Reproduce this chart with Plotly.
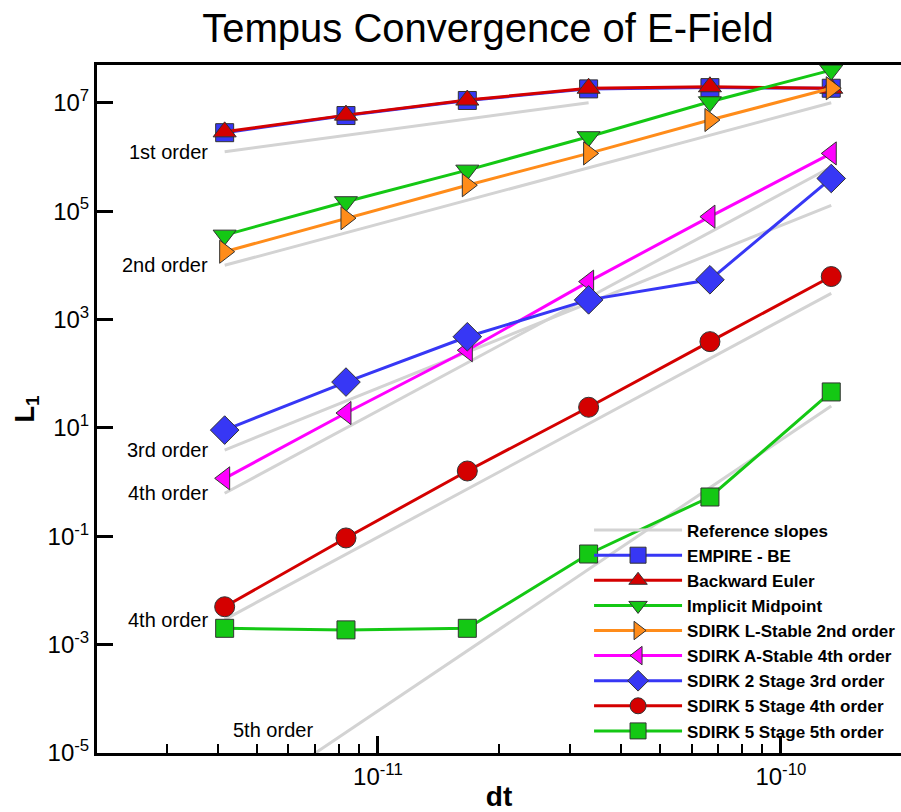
import plotly.graph_objects as go
import math

# ---- data ----
dt = [4.1667e-12, 8.3333e-12, 1.6667e-11, 3.3333e-11, 6.6667e-11, 1.3333e-10]

empire_be = [2.8e6, 5.8e6, 1.1e7, 1.8e7, 1.9e7, 1.85e7]
backward_euler = [2.9e6, 5.9e6, 1.12e7, 1.85e7, 1.97e7, 1.85e7]
implicit_midpoint = [3.6e4, 1.49e5, 5.7e5, 2.36e6, 1.04e7, 4.0e7]
sdirk_l2 = [1.78e4, 7.4e4, 3.0e5, 1.16e6, 4.8e6, 1.85e7]
sdirk_a4 = [1.17, 18.8, 2.7e2, 5.0e3, 7.9e4, 1.16e6]
sdirk_2s3 = [9.1, 70, 4.8e2, 2.3e3, 5.4e3, 4.0e5]
sdirk_5s4 = [5.0e-3, 0.093, 1.6, 24, 3.9e2, 6.2e3]
sdirk_5s5 = [2.0e-3, 1.87e-3, 2.0e-3, 0.047, 0.53, 46]

# reference slope segments (start dt, end dt, start value, end value)
ref_labels = ["1st order", "2nd order", "3rd order", "4th order", "4th order", "5th order"]
ref_dt_start = [dt[0], dt[0], dt[0], dt[0], dt[0], dt[0]]
ref_dt_end = [dt[3], dt[5], dt[5], dt[5], dt[5], dt[5]]
ref_val_start = [1.25e6, 1.0e4, 3.9, 0.62, 2.9e-3, 7.5e-7]
ref_val_end = [1.0e7, 1.0e7, 1.28e5, 6.5e5, 3.04e3, 25.2]

y_tickvals = [1e-5, 1e-3, 1e-1, 1e1, 1e3, 1e5, 1e7]
y_ticktext = ["10<sup>-5</sup>", "10<sup>-3</sup>", "10<sup>-1</sup>", "10<sup>1</sup>",
              "10<sup>3</sup>", "10<sup>5</sup>", "10<sup>7</sup>"]
x_tickvals = [1e-11, 1e-10]
x_ticktext = ["10<sup>-11</sup>", "10<sup>-10</sup>"]
x_minor = [3e-12, 4e-12, 5e-12, 6e-12, 7e-12, 8e-12, 9e-12,
           2e-11, 3e-11, 4e-11, 5e-11, 6e-11, 7e-11, 8e-11, 9e-11, 2e-10]

series = [
    ("EMPIRE - BE", empire_be, "#3737f5", "square", 18),
    ("Backward Euler", backward_euler, "#d40000", "triangle-up", 20),
    ("Implicit Midpoint", implicit_midpoint, "#14c814", "triangle-down", 20),
    ("SDIRK L-Stable 2nd order", sdirk_l2, "#ff8c1a", "triangle-right", 20),
    ("SDIRK A-Stable 4th order", sdirk_a4, "#ff00ff", "triangle-left", 20),
    ("SDIRK 2 Stage 3rd order", sdirk_2s3, "#3737f5", "diamond", 22),
    ("SDIRK 5 Stage 4th order", sdirk_5s4, "#d40000", "circle", 20),
    ("SDIRK 5 Stage 5th order", sdirk_5s5, "#14c814", "square", 18),
]

FONT = "Liberation Sans, Arial, Helvetica, sans-serif"

fig = go.Figure()

for i in range(len(ref_labels)):
    fig.add_trace(go.Scatter(
        x=[ref_dt_start[i], ref_dt_end[i]], y=[ref_val_start[i], ref_val_end[i]],
        mode="lines", line=dict(color="#d3d3d3", width=3),
        name="Reference slopes", legendgroup="ref", showlegend=(i == 0),
        hoverinfo="skip"))

for name, vals, color, sym, size in series:
    fig.add_trace(go.Scatter(
        x=dt, y=vals, mode="lines+markers", name=name,
        line=dict(color=color, width=3),
        marker=dict(symbol=sym, size=size, color=color,
                    line=dict(color="#333333", width=1))))

annotations = []
for i in range(5):
    annotations.append(dict(
        x=math.log10(ref_dt_start[i]), y=math.log10(ref_val_start[i]),
        xref="x", yref="y", text=ref_labels[i], showarrow=False,
        xanchor="right", yanchor="middle", xshift=-15,
        font=dict(family=FONT, size=20, color="black")))
annotations.append(dict(
    x=-11.26, y=-4.57, xref="x", yref="y", text=ref_labels[5], showarrow=False,
    xanchor="center", yanchor="middle",
    font=dict(family=FONT, size=20, color="black")))

fig.update_layout(
    width=901, height=812,
    margin=dict(l=97, r=0, t=65, b=59, autoexpand=False),
    paper_bgcolor="white", plot_bgcolor="white",
    title=dict(text="Tempus Convergence of E-Field", x=488 / 901, xanchor="center",
               y=1 - 28 / 812, yanchor="middle",
               font=dict(family=FONT, size=40, color="black")),
    font=dict(family=FONT, color="black"),
    showlegend=True,
    legend=dict(x=0.612, y=0.3495, xanchor="left", yanchor="top",
                bgcolor="rgba(0,0,0,0)", borderwidth=0,
                font=dict(family="Liberation Sans, Arial", size=17, color="black", weight="bold"),
                itemwidth=88, tracegroupgap=0),
    annotations=annotations,
)

fig.update_xaxes(
    type="log", range=[-11.697, -9.702], automargin=False,
    showgrid=False, zeroline=False,
    showline=True, linecolor="black", linewidth=3, mirror=True,
    ticks="inside", ticklen=17, tickwidth=3, tickcolor="black",
    tickvals=x_tickvals, ticktext=x_ticktext,
    tickfont=dict(family=FONT, size=24, color="black"),
    minor=dict(tickvals=x_minor, ticks="inside", ticklen=9, tickwidth=1.5, tickcolor="black"),
    title=dict(text="<b>dt</b>", font=dict(family=FONT, size=28, color="black"), standoff=13),
)
fig.update_yaxes(
    type="log", range=[-5, 7.696], automargin=False,
    showgrid=False, zeroline=False,
    showline=True, linecolor="black", linewidth=3, mirror=False,
    ticks="inside", ticklen=16, tickwidth=3, tickcolor="black",
    tickvals=y_tickvals, ticktext=y_ticktext,
    tickfont=dict(family=FONT, size=24, color="black"),
    title=dict(text="<b>L<sub>1</sub></b>", font=dict(family=FONT, size=27, color="black"), standoff=6),
)

fig.write_html("out.html")
